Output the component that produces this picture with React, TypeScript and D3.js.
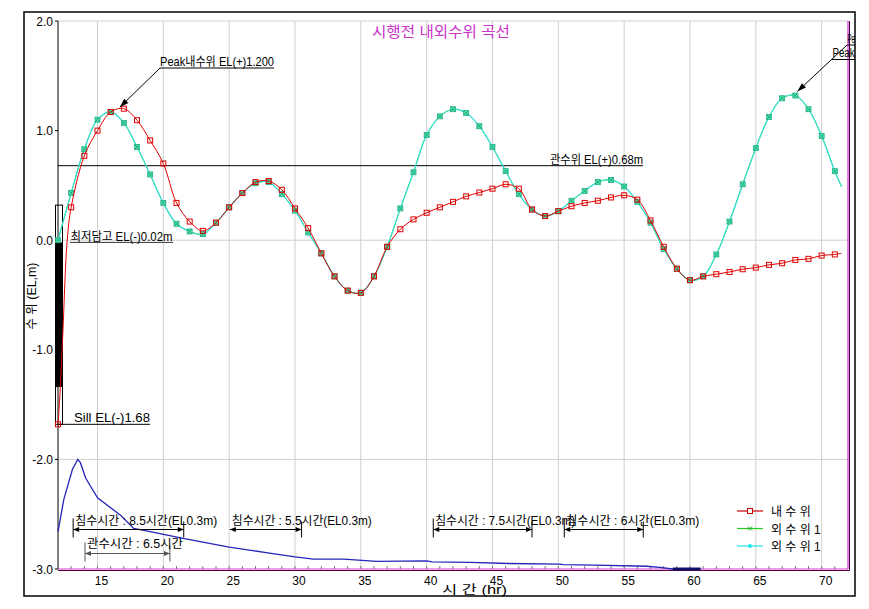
import React from 'react';
import * as d3 from 'd3';

const W = 869;
const H = 609;

// time axis (hr) for water level series
const hours = [12, 13, 14, 15, 16, 17, 18, 19, 20, 21, 22, 23, 24, 25, 26, 27, 28, 29, 30, 31, 32, 33, 34, 35, 36, 37, 38, 39, 40, 41, 42, 43, 44, 45, 46, 47, 48, 49, 50, 51, 52, 53, 54, 55, 56, 57, 58, 59, 60, 61, 62, 63, 64, 65, 66, 67, 68, 69, 70, 71, 71.5];

// 내 수 위 (inner water level, EL m)
const innerLevel = [-1.68, 0.30, 0.77, 1.00, 1.17, 1.20, 1.095, 0.91, 0.70, 0.34, 0.17, 0.085, 0.16, 0.30, 0.43, 0.53, 0.54, 0.46, 0.29, 0.11, -0.12, -0.33, -0.46, -0.48, -0.33, -0.06, 0.10, 0.19, 0.25, 0.30, 0.35, 0.40, 0.435, 0.47, 0.51, 0.47, 0.28, 0.22, 0.265, 0.31, 0.34, 0.36, 0.39, 0.41, 0.37, 0.18, -0.06, -0.26, -0.365, -0.33, -0.31, -0.29, -0.265, -0.25, -0.225, -0.21, -0.18, -0.17, -0.14, -0.13, -0.12];
// extra readings during the initial rise of the inner level
const innerRiseTimes = [12.15, 12.35, 12.7];
const innerRiseLevel = [-1.40, -0.90, 0.0];

// 외 수 위 1 (outer water level, EL m)
const outerLevel = [0.0, 0.43, 0.83, 1.10, 1.17, 1.07, 0.85, 0.60, 0.34, 0.15, 0.08, 0.055, 0.16, 0.30, 0.43, 0.52, 0.53, 0.42, 0.27, 0.07, -0.12, -0.33, -0.46, -0.48, -0.33, -0.06, 0.29, 0.62, 0.96, 1.13, 1.195, 1.16, 1.04, 0.85, 0.63, 0.42, 0.28, 0.22, 0.265, 0.36, 0.45, 0.53, 0.55, 0.49, 0.35, 0.16, -0.08, -0.26, -0.365, -0.33, -0.13, 0.17, 0.51, 0.84, 1.125, 1.295, 1.32, 1.195, 0.95, 0.63, 0.49];

// lower blue curve
const flowTimes = [12.0, 12.45, 13.1, 13.5, 13.7, 14.1, 15.0, 16.2, 16.75, 17.75, 19.0, 21.5, 25.0, 27.8, 30.0, 31.4, 33.7, 36.2, 40.0, 40.4, 43.3, 46.2, 50.1, 50.4, 52.8, 56.7, 57.7, 58.7, 60.8];
const flowLevel = [-2.66, -2.36, -2.09, -2.0, -2.03, -2.17, -2.35, -2.46, -2.51, -2.63, -2.66, -2.72, -2.80, -2.85, -2.89, -2.91, -2.91, -2.93, -2.925, -2.935, -2.94, -2.95, -2.955, -2.96, -2.965, -2.975, -2.985, -3.0, -3.0];

// axes
const xTicks = [15, 20, 25, 30, 35, 40, 45, 50, 55, 60, 65, 70];
const xMinorTicks = [13, 14, 15, 16, 17, 18, 19, 20, 21, 22, 23, 24, 25, 26, 27, 28, 29, 30, 31, 32, 33, 34, 35, 36, 37, 38, 39, 40, 41, 42, 43, 44, 45, 46, 47, 48, 49, 50, 51, 52, 53, 54, 55, 56, 57, 58, 59, 60, 61, 62, 63, 64, 65, 66, 67, 68, 69, 70, 71];
const yTicks = [2, 1, 0, -1, -2, -3];
const yTickLabels = ['2.0', '1.0', '0.0', '-1.0', '-2.0', '-3.0'];
const yGrid = [2, 0, -2];

// reference levels
const reservoirLevel = 0.68;
const lowestTide = -0.02;
const sillLevel = -1.68;
const gaugeTop = 0.32;
const gaugeFillBottom = -1.34;

// flooding durations
const durationLabels = ['침수시간 : 8.5시간(EL0.3m)', '관수시간 : 6.5시간', '침수시간 : 5.5시간(EL0.3m)', '침수시간 : 7.5시간(EL0.3m)', '침수시간 : 6시간(EL0.3m)'];
const durationStart = [13.15, 14.05, 25.05, 40.5, 50.45];
const durationEnd = [21.55, 20.5, 30.5, 48.0, 56.45];
const durationRow = [0, 1, 0, 0, 0];
const durationLeftBar = [true, true, false, true, true];
const durationTextWidth = [142, 96, 140, 140, 133];

const legendLabels = ['내 수 위', '외 수 위  1', '외 수 위  1'];

// the outer-peak labels are cut by the chart frame in the reference
const outerPeakLabelTop = 'Pe';
const outerPeakLabelBottom = 'Peak';

const FF = "'Liberation Sans', 'Noto Sans CJK KR', sans-serif";

function arrowHead(tx: number, ty: number, fx: number, fy: number, len: number, half: number) {
  const dx = fx - tx;
  const dy = fy - ty;
  const d = Math.sqrt(dx * dx + dy * dy) || 1;
  const ux = dx / d;
  const uy = dy / d;
  const bx = tx + ux * len;
  const by = ty + uy * len;
  return `M${tx},${ty}L${bx - uy * half},${by + ux * half}L${bx + uy * half},${by - ux * half}Z`;
}

export default function App() {
  const x = d3.scaleLinear().domain([12, 72]).range([58, 848]);
  const y = d3.scaleLinear().domain([-3, 2]).range([569, 21]);

  const smooth = d3
    .line<[number, number]>()
    .x((d) => x(d[0]))
    .y((d) => y(d[1]))
    .curve(d3.curveCatmullRom.alpha(0.5));
  const straight = d3
    .line<[number, number]>()
    .x((d) => x(d[0]))
    .y((d) => y(d[1]));

  const innerPts: [number, number][] = hours
    .map((t, i) => [t, innerLevel[i]] as [number, number])
    .concat(innerRiseTimes.map((t, i) => [t, innerRiseLevel[i]] as [number, number]))
    .sort((a, b) => a[0] - b[0]);
  const outerPts: [number, number][] = hours.map((t, i) => [t, outerLevel[i]]);
  const flowPts: [number, number][] = flowTimes.map((t, i) => [t, flowLevel[i]]);
  const flowTail = flowPts.filter((p) => p[0] >= 58.7);

  const innerMarks = hours.map((t, i) => [t, innerLevel[i]]).filter((p) => Number.isInteger(p[0]));
  const outerMarks = hours.map((t, i) => [t, outerLevel[i]]).filter((p) => Number.isInteger(p[0]));

  const x0 = x(12);
  const x1 = x(72);
  const yTop = y(2);
  const yBot = y(-3);

  // peak annotations
  const innerPeakIdx = innerLevel.indexOf(d3.max(innerLevel) as number);
  const ipx = x(hours[innerPeakIdx]) - 4;
  const ipy = y(innerLevel[innerPeakIdx]) - 1.5;
  const outerPeakIdx = outerLevel.indexOf(d3.max(outerLevel) as number);
  const opx = x(hours[outerPeakIdx]) + 2;
  const opy = y(outerLevel[outerPeakIdx]) - 4;

  const rowY = [529.5, 553.5];
  const rowText = [525, 548];

  return (
    <svg
      width={W}
      height={H}
      style={{ position: 'absolute', left: 0, top: 0, display: 'block', background: '#fff' }}
      fontFamily={FF}
    >
      <defs>
        <clipPath id="frameClip">
          <rect x={24} y={12} width={831} height={584} />
        </clipPath>
      </defs>
      <rect x={0} y={0} width={W} height={H} fill="#fff" />

      {/* vertical grid */}
      {xTicks.map((t) => (
        <line key={'gx' + t} x1={x(t)} x2={x(t)} y1={yTop} y2={yBot} stroke="#cfcfcf" strokeWidth={1} />
      ))}
      {/* horizontal grid */}
      {yGrid.map((v) => (
        <line key={'gy' + v} x1={x0} x2={x1} y1={y(v)} y2={y(v)} stroke="#cfcfcf" strokeWidth={1} />
      ))}

      {/* minor x ticks */}
      {xMinorTicks.map((t) => (
        <line key={'mt' + t} x1={x(t)} x2={x(t)} y1={yBot - 3} y2={yBot} stroke="#777" strokeWidth={1} />
      ))}

      {/* y axis */}
      <line x1={x0} x2={x0} y1={yTop} y2={yBot} stroke="#000" strokeWidth={1} />
      {yTicks.map((v, i) => (
        <g key={'yt' + v}>
          <line x1={x0 - 3} x2={x0} y1={y(v)} y2={y(v)} stroke="#000" />
          <text x={53} y={y(v) + 4.5} fontSize={12} textAnchor="end" fill="#000">
            {yTickLabels[i]}
          </text>
        </g>
      ))}
      {xTicks.map((t) => (
        <text key={'xl' + t} x={x(t) + 4} y={585} fontSize={12} textAnchor="middle" fill="#000">
          {t}
        </text>
      ))}

      {/* plot border right / bottom */}
      <line x1={x0} x2={x1} y1={yBot} y2={yBot} stroke="#d040d0" strokeWidth={1} />
      <line x1={x0} x2={x1 + 1.5} y1={yBot + 1.5} y2={yBot + 1.5} stroke="#5a0030" strokeWidth={1} />
      <line x1={x1} x2={x1} y1={yTop} y2={yBot} stroke="#d000d0" strokeWidth={1} />
      <line x1={x1 + 1.5} x2={x1 + 1.5} y1={yTop} y2={yBot + 1.5} stroke="#400040" strokeWidth={1} />

      {/* title */}
      <text x={372} y={37} fontSize={15} fill="#cc33cc" textLength={138} lengthAdjust="spacingAndGlyphs">
        시행전 내외수위 곡선
      </text>

      {/* axis titles */}
      <text
        transform={`translate(36,${296}) rotate(-90)`}
        fontSize={12}
        textAnchor="middle"
        fill="#000"
        textLength={67}
        lengthAdjust="spacingAndGlyphs"
      >
        수 위 (EL,m)
      </text>
      <text x={442} y={594} fontSize={12} fill="#000" textLength={65} lengthAdjust="spacingAndGlyphs">
        시   간 (hr)
      </text>

      {/* reservoir level line */}
      <line x1={x0} x2={643} y1={y(reservoirLevel)} y2={y(reservoirLevel)} stroke="#000" strokeWidth={1} />
      <text x={550} y={y(reservoirLevel) - 2} fontSize={12} fill="#000" textLength={93} lengthAdjust="spacingAndGlyphs">
        관수위 EL(+)0.68m
      </text>

      {/* gauge bar */}
      <rect x={55.5} y={y(gaugeTop)} width={7} height={y(sillLevel) - y(gaugeTop)} fill="#fff" stroke="#000" strokeWidth={1} />
      <rect x={55.5} y={y(lowestTide)} width={7} height={y(gaugeFillBottom) - y(lowestTide)} fill="#000" />
      <line x1={x0} x2={x0} y1={y(gaugeTop)} y2={y(sillLevel)} stroke="#000" strokeWidth={1} />

      {/* lowest tide label */}
      <line x1={70} x2={173} y1={y(lowestTide)} y2={y(lowestTide)} stroke="#333" strokeWidth={1} />
      <text x={70.5} y={y(lowestTide) - 1.5} fontSize={12} fill="#000" textLength={102} lengthAdjust="spacingAndGlyphs">
        최저담고 EL(-)0.02m
      </text>

      {/* sill label */}
      <line x1={x0} x2={150} y1={y(sillLevel)} y2={y(sillLevel)} stroke="#000" strokeWidth={1} />
      <text x={74} y={y(sillLevel) - 2.5} fontSize={12} fill="#000" textLength={76} lengthAdjust="spacingAndGlyphs">
        Sill EL(-)1.68
      </text>

      {/* lower blue curve */}
      <path d={straight(flowPts) || ''} fill="none" stroke="#2424b8" strokeWidth={1.3} />
      <path d={straight(flowTail) || ''} fill="none" stroke="#10106a" strokeWidth={3} />

      {/* outer level (cyan & green) */}
      <path d={smooth(outerPts) || ''} fill="none" stroke="#00c800" strokeWidth={1} />
      <path d={smooth(outerPts) || ''} fill="none" stroke="#3ae0e0" strokeWidth={1.2} />
      {outerMarks.map((p) => (
        <g key={'om' + p[0]}>
          <rect x={x(p[0]) - 2.5} y={y(p[1]) - 2.5} width={5} height={5} fill="#4fe6b4" stroke="#1fae84" strokeWidth={0.8} />
          <path
            d={`M${x(p[0]) - 2},${y(p[1]) - 2}L${x(p[0]) + 2},${y(p[1]) + 2}M${x(p[0]) - 2},${y(p[1]) + 2}L${x(p[0]) + 2},${y(p[1]) - 2}`}
            stroke="#1a9a6a"
            strokeWidth={0.8}
          />
        </g>
      ))}

      {/* inner level (red) */}
      <path d={smooth(innerPts) || ''} fill="none" stroke="#e00000" strokeWidth={1} />
      {innerMarks.map((p) => (
        <rect
          key={'im' + p[0]}
          x={x(p[0]) - 2.5}
          y={y(p[1]) - 2.5}
          width={5}
          height={5}
          fill="none"
          stroke="#e00000"
          strokeWidth={1}
        />
      ))}

      {/* inner peak annotation */}
      <line x1={160} x2={274} y1={68} y2={68} stroke="#000" strokeWidth={1} />
      <text x={160} y={65.5} fontSize={12} fill="#000" textLength={114} lengthAdjust="spacingAndGlyphs">
        Peak내수위 EL(+)1.200
      </text>
      <line x1={160} y1={68} x2={ipx} y2={ipy} stroke="#000" strokeWidth={1} />
      <path d={arrowHead(ipx, ipy, 160, 68, 9, 3)} fill="#000" />

      {/* outer peak annotation (cut by the frame) */}
      <g clipPath="url(#frameClip)">
        <line x1={847} x2={856} y1={45} y2={45} stroke="#000" strokeWidth={1} />
        <text x={847.5} y={42.5} fontSize={12} fill="#000" textLength={7.5} lengthAdjust="spacingAndGlyphs">
          {outerPeakLabelTop}
        </text>
        <line x1={832} x2={856} y1={59.5} y2={59.5} stroke="#000" strokeWidth={1} />
        <text x={832.5} y={57} fontSize={12} fill="#000" textLength={22} lengthAdjust="spacingAndGlyphs">
          {outerPeakLabelBottom}
        </text>
        <line x1={847} y1={45} x2={opx} y2={opy} stroke="#000" strokeWidth={1} />
        <path d={arrowHead(opx, opy, 847, 45, 9, 3)} fill="#000" />
      </g>

      {/* duration annotations */}
      {durationLabels.map((lab, i) => {
        const xs = x(durationStart[i]);
        const xe = x(durationEnd[i]);
        const ly = rowY[durationRow[i]];
        const col = durationRow[i] === 1 ? '#555' : '#000';
        return (
          <g key={'dur' + i}>
            <line x1={xs} x2={xe} y1={ly} y2={ly} stroke={col} strokeWidth={1} />
            <path d={arrowHead(xs, ly, xe, ly, 6, 2.5)} fill={col} />
            <path d={arrowHead(xe, ly, xs, ly, 6, 2.5)} fill={col} />
            {durationLeftBar[i] && <line x1={xs} x2={xs} y1={ly - 11} y2={ly + 8} stroke={col} strokeWidth={1} />}
            <line x1={xe} x2={xe} y1={ly - 8} y2={ly + 8} stroke={col} strokeWidth={1} />
            <text
              x={xs + 2}
              y={rowText[durationRow[i]]}
              fontSize={12}
              fill="#000"
              textLength={durationTextWidth[i]}
              lengthAdjust="spacingAndGlyphs"
            >
              {lab}
            </text>
          </g>
        );
      })}

      {/* legend */}
      {legendLabels.map((lab, i) => {
        const ly = 511 + i * 17.5;
        const colors = ['#d00000', '#22cc22', '#22e6e6'];
        return (
          <g key={'lg' + i}>
            <line x1={737} x2={763} y1={ly} y2={ly} stroke={colors[i]} strokeWidth={1.2} />
            {i === 0 && <rect x={747.5} y={ly - 2.5} width={5} height={5} fill="#fff" stroke="#d00000" strokeWidth={1} />}
            {i === 1 && (
              <path d={`M748,${ly - 2}L752,${ly + 2}M748,${ly + 2}L752,${ly - 2}`} stroke="#22aa22" strokeWidth={1} />
            )}
            {i === 2 && <circle cx={750} cy={ly} r={2} fill="#22e6e6" />}
            <text x={771} y={ly + 5} fontSize={12} fill="#000">
              {lab}
            </text>
          </g>
        );
      })}

      {/* outer frame */}
      <rect x={24} y={12} width={831} height={584} fill="none" stroke="#000" strokeWidth={1.5} />
    </svg>
  );
}
